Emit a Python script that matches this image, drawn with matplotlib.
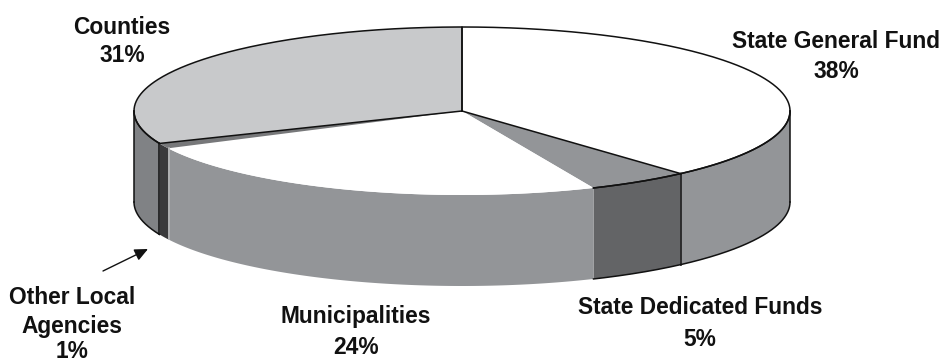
import numpy as np
import matplotlib
matplotlib.use('Agg')
import matplotlib.pyplot as plt

plt.rcParams['font.family'] = ['Liberation Sans', 'DejaVu Sans']

# clockwise from 12 o'clock
names = ['State General Fund', 'State Dedicated Funds', 'Municipalities', 'Other Local\nAgencies', 'Counties']
shares = [38, 5, 24, 1, 31]
top_colors = ['#ffffff', '#939598', '#ffffff', '#77787a', '#c8c9cb']
side_colors = ['#939598', '#636466', '#939598', '#3a3a3c', '#808285']
outlined = [True, True, False, False, True]

cx, cy = 462, 111
rx, ry = 328, 84
depth = 91


def rim(a0, a1, drop=0):
    t = np.radians(np.linspace(a0, a1, 200))
    return cx + rx * np.sin(t), cy - ry * np.cos(t) + drop


fig = plt.figure(figsize=(9.41, 3.64), dpi=100)
ax = fig.add_axes([0, 0, 1, 1])
ax.set_xlim(0, 941)
ax.set_ylim(364, 0)
ax.axis('off')

edges = np.concatenate([[0], np.cumsum(shares)]) / sum(shares) * 360

# side walls, only the front half shows
for i in range(len(shares)):
    a0 = max(edges[i], 90)
    a1 = min(edges[i + 1], 270)
    if a1 <= a0:
        continue
    x, y = rim(a0, a1)
    xb, yb = rim(a0, a1, depth)
    ax.fill(np.r_[x, xb[::-1]], np.r_[y, yb[::-1]], color=side_colors[i], lw=0, zorder=2)
    if outlined[i]:
        ax.plot(x, y, color='#111111', lw=1.1, zorder=4)
        ax.plot(xb, yb, color='#111111', lw=1.1, zorder=4)
        # the 5% slice has no black seam of its own
        if i == 4:
            ax.plot([x[0], xb[0]], [y[0], yb[0]], color='#111111', lw=1.1, zorder=4)
        if i == 0:
            ax.plot([x[-1], xb[-1]], [y[-1], yb[-1]], color='#111111', lw=1.1, zorder=4)

# outer verticals of the wall
for a in (90, 270):
    x, y = rim(a, a)
    ax.plot([x[0], x[0]], [y[0], y[0] + depth], color='#111111', lw=1.1, zorder=4)

# top faces
for i in range(len(shares)):
    x, y = rim(edges[i], edges[i + 1])
    ax.fill(np.r_[cx, x], np.r_[cy, y], color=top_colors[i], lw=0, zorder=3)

# outlines on the top face
x, y = rim(edges[0], edges[1])
ax.plot(np.r_[cx, x, cx], np.r_[cy, y, cy], color='#111111', lw=1.1, zorder=5)
x, y = rim(edges[4], edges[5])
ax.plot(np.r_[cx, x, cx], np.r_[cy, y, cy], color='#111111', lw=1.1, zorder=5)
x, y = rim(edges[1], edges[2])
ax.plot(x, y, color='#111111', lw=1.1, zorder=5)

# light seam left of the municipalities wall
x, y = rim(edges[3], edges[3])
ax.plot([x[0] + 1, x[0] + 1], [y[0], y[0] + depth], color='#b5b6b8', lw=1.2, zorder=4)

lab = dict(ha='center', va='center', fontsize=16.4, fontweight='bold', color='#111111')
ax.text(122, 27.5, 'Counties', **lab)
ax.text(122, 55.5, '31%', **lab)
ax.text(836, 42, 'State General Fund', **lab)
ax.text(836, 72, '38%', **lab)
ax.text(700, 308, 'State Dedicated Funds', **lab)
ax.text(700, 339.5, '5%', **lab)
ax.text(356, 317, 'Municipalities', **lab)
ax.text(356, 347, '24%', **lab)
ax.text(72, 298, 'Other Local', **lab)
ax.text(72, 326, 'Agencies', **lab)
ax.text(72, 352, '1%', **lab)

ax.annotate('', xy=(148, 249), xytext=(103, 271),
            arrowprops=dict(arrowstyle='-|>,head_length=0.57,head_width=0.26', color='#111111',
                            lw=1, mutation_scale=14, shrinkA=0, shrinkB=0))

fig.savefig('out.png', dpi=100)
